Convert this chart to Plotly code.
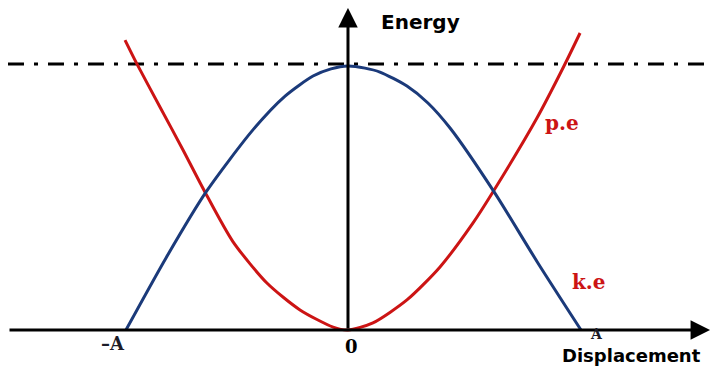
import plotly.graph_objects as go

# displacement in units of amplitude A, energy in units of total energy E
pe_x = [-0.957, -0.906, -0.807, -0.708, -0.614, -0.494, -0.348, -0.206, -0.064, 0.0,
        0.107, 0.253, 0.395, 0.536, 0.622, 0.811, 0.927, 0.996]
pe_y = [1.098, 1.008, 0.845, 0.682, 0.523, 0.335, 0.178, 0.076, 0.011, 0.0,
        0.027, 0.114, 0.239, 0.405, 0.523, 0.803, 1.000, 1.125]

ke_x = [-0.953, -0.781, -0.609, -0.408, -0.270, -0.150, -0.073, 0.0,
        0.073, 0.137, 0.253, 0.343, 0.438, 0.627, 0.815, 1.0]
ke_y = [0.0, 0.273, 0.523, 0.758, 0.886, 0.962, 0.989, 1.0,
        0.992, 0.977, 0.924, 0.860, 0.765, 0.523, 0.254, 0.0]

total_energy = 1.008

RED = "#cc1414"
BLUE = "#1b3a7a"

# page body adds 8px around the plot, so shift the view to compensate
OFF = 8
X0, X1 = -1.4592, 1.6395
Y0, Y1 = -0.1667, 1.2197

fig = go.Figure()

fig.add_trace(go.Scatter(
    x=pe_x, y=pe_y, mode="lines", name="p.e",
    line=dict(color=RED, width=3, shape="spline", smoothing=0.7),
))
fig.add_trace(go.Scatter(
    x=ke_x, y=ke_y, mode="lines", name="k.e",
    line=dict(color=BLUE, width=3, shape="spline", smoothing=0.7),
))

# total energy line
fig.add_shape(type="line", x0=X0, x1=X1, y0=total_energy, y1=total_energy,
              line=dict(color="black", width=3, dash="16px,10px,4px,10px"), layer="below")

# axes with arrows
fig.add_annotation(x=1.554, y=0, ax=X0, ay=0, axref="x", ayref="y", xref="x", yref="y",
                   text="", showarrow=True, arrowhead=2, arrowsize=1.3, arrowwidth=3,
                   arrowcolor="black")
fig.add_annotation(x=0, y=1.22, ax=0, ay=0, axref="x", ayref="y", xref="x", yref="y",
                   text="", showarrow=True, arrowhead=2, arrowsize=1.3, arrowwidth=3,
                   arrowcolor="black")

sans = "DejaVu Sans, Arial, sans-serif"
serif = "DejaVu Serif, Times New Roman, serif"

labels = [
    ("<b>Energy</b>", 420, 22, sans, 20, "black", "center"),
    ("<b>Displacement</b>", 561, 355, sans, 18, "black", "left"),
    ("<b>p.e</b>", 562, 123, serif, 20, RED, "center"),
    ("<b>k.e</b>", 589, 282, serif, 20, RED, "center"),
    ("<b>\u2013A</b>", 113, 343, serif, 18, "#1c1c28", "center"),
    ("<b>0</b>", 351, 346, serif, 18, "black", "center"),
    ("<b>A</b>", 596, 334, serif, 14, "#1c1c28", "center"),
]
for txt, px, py, fam, size, col, anchor in labels:
    fig.add_annotation(
        x=(px - OFF) / 722, y=1 - (py - OFF) / 366, xref="paper", yref="paper",
        text=txt, showarrow=False, font=dict(family=fam, size=size, color=col),
        xanchor=anchor, yanchor="middle", borderpad=0,
    )

fig.update_layout(
    width=722, height=366, autosize=False,
    margin=dict(l=0, r=0, t=0, b=0),
    paper_bgcolor="white", plot_bgcolor="white",
    showlegend=False,
    xaxis=dict(range=[X0, X1], visible=False, fixedrange=True),
    yaxis=dict(range=[Y0, Y1], visible=False, fixedrange=True),
)

fig.write_html("out.html")
